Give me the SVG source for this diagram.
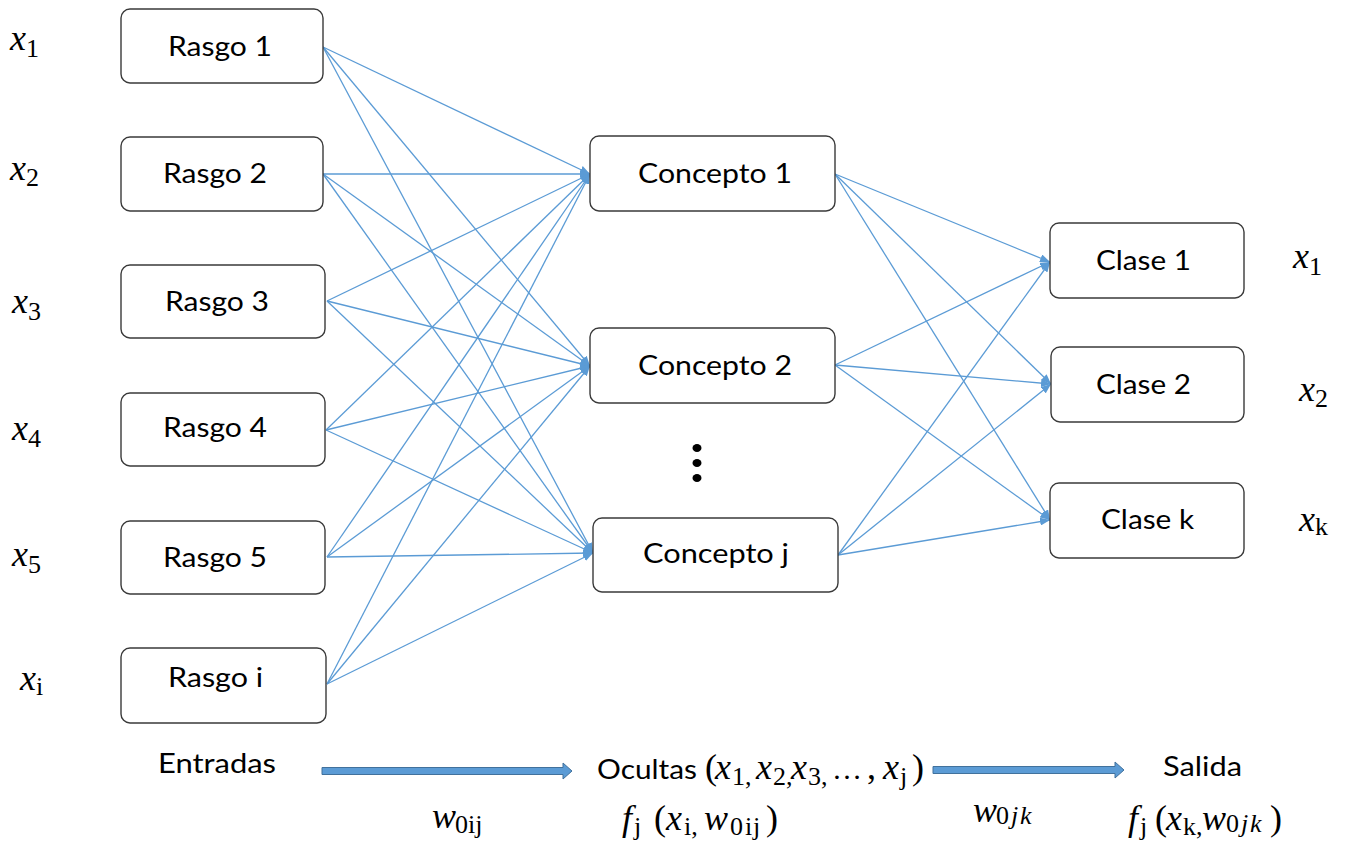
<svg xmlns="http://www.w3.org/2000/svg" width="1348" height="846" viewBox="0 0 1348 846">
  <style>
    .box { fill: #ffffff; stroke: #3a3a3a; stroke-width: 1.4; }
    .lbl { font-family: Lato, "Liberation Sans", sans-serif; font-size: 26px; fill: #000000; }
    .m { font-family: "Liberation Serif", serif; font-size: 36px; font-style: italic; fill: #000000; }
    .s { font-size: 26px; font-style: normal; }
    .si { font-size: 26px; font-style: italic; }
    .up { font-style: normal; }
    .edge { stroke: #5B9BD5; stroke-width: 1.3; fill: none; marker-end: url(#ah); }
    .flow { fill: #5B9BD5; stroke: #41719C; stroke-width: 1; }
  </style>
  <defs>
    <marker id="ah" viewBox="0 0 10 8" refX="10" refY="4" markerWidth="10" markerHeight="8" markerUnits="userSpaceOnUse" orient="auto">
      <path d="M0,0 L10,4 L0,8 z" fill="#5B9BD5"/>
    </marker>
  </defs>
  <rect width="1348" height="846" fill="#ffffff"/>

  <!-- connectors: input layer -> hidden layer -> output layer -->
  <g id="connectors">
    <line class="edge" x1="323" y1="47" x2="590" y2="174"/>
    <line class="edge" x1="323" y1="47" x2="590" y2="366"/>
    <line class="edge" x1="323" y1="47" x2="593" y2="553"/>
    <line class="edge" x1="323" y1="174" x2="590" y2="174"/>
    <line class="edge" x1="323" y1="174" x2="590" y2="366"/>
    <line class="edge" x1="323" y1="174" x2="593" y2="553"/>
    <line class="edge" x1="327" y1="301" x2="590" y2="174"/>
    <line class="edge" x1="327" y1="301" x2="590" y2="366"/>
    <line class="edge" x1="327" y1="301" x2="593" y2="553"/>
    <line class="edge" x1="326" y1="430" x2="590" y2="174"/>
    <line class="edge" x1="326" y1="430" x2="590" y2="366"/>
    <line class="edge" x1="326" y1="430" x2="593" y2="553"/>
    <line class="edge" x1="327" y1="557" x2="590" y2="174"/>
    <line class="edge" x1="327" y1="557" x2="590" y2="366"/>
    <line class="edge" x1="327" y1="557" x2="593" y2="553"/>
    <line class="edge" x1="327" y1="684" x2="590" y2="174"/>
    <line class="edge" x1="327" y1="684" x2="590" y2="366"/>
    <line class="edge" x1="327" y1="684" x2="593" y2="553"/>

    <line class="edge" x1="835" y1="174" x2="1050" y2="262"/>
    <line class="edge" x1="835" y1="174" x2="1051" y2="384"/>
    <line class="edge" x1="835" y1="174" x2="1050" y2="520"/>
    <line class="edge" x1="835" y1="365" x2="1050" y2="262"/>
    <line class="edge" x1="835" y1="365" x2="1051" y2="384"/>
    <line class="edge" x1="835" y1="365" x2="1050" y2="520"/>
    <line class="edge" x1="838" y1="555" x2="1050" y2="262"/>
    <line class="edge" x1="838" y1="555" x2="1051" y2="384"/>
    <line class="edge" x1="838" y1="555" x2="1050" y2="520"/>
  </g>

  <!-- input features -->
  <g id="rasgo1"><rect class="box" x="121" y="9" width="202" height="74" rx="9"/><text class="lbl" x="168" y="56" textLength="104" lengthAdjust="spacingAndGlyphs">Rasgo 1</text></g>
  <g id="rasgo2"><rect class="box" x="121" y="137" width="202" height="74" rx="9"/><text class="lbl" x="163" y="183" textLength="104" lengthAdjust="spacingAndGlyphs">Rasgo 2</text></g>
  <g id="rasgo3"><rect class="box" x="121" y="265" width="204" height="73" rx="9"/><text class="lbl" x="165" y="311" textLength="104" lengthAdjust="spacingAndGlyphs">Rasgo 3</text></g>
  <g id="rasgo4"><rect class="box" x="121" y="393" width="204" height="73" rx="9"/><text class="lbl" x="163" y="437" textLength="104" lengthAdjust="spacingAndGlyphs">Rasgo 4</text></g>
  <g id="rasgo5"><rect class="box" x="121" y="521" width="204" height="73" rx="9"/><text class="lbl" x="163" y="567" textLength="104" lengthAdjust="spacingAndGlyphs">Rasgo 5</text></g>
  <g id="rasgoi"><rect class="box" x="121" y="648" width="205" height="75" rx="9"/><text class="lbl" x="168" y="687" textLength="95" lengthAdjust="spacingAndGlyphs">Rasgo i</text></g>

  <!-- hidden concepts -->
  <g id="concepto1"><rect class="box" x="590" y="136" width="245" height="75" rx="9"/><text class="lbl" x="638" y="183" textLength="154" lengthAdjust="spacingAndGlyphs">Concepto 1</text></g>
  <g id="concepto2"><rect class="box" x="590" y="328" width="245" height="75" rx="9"/><text class="lbl" x="638" y="375" textLength="154" lengthAdjust="spacingAndGlyphs">Concepto 2</text></g>
  <g id="ellipsis">
    <ellipse cx="697" cy="448" rx="4.5" ry="4"/>
    <ellipse cx="697" cy="463" rx="4.5" ry="4"/>
    <ellipse cx="697" cy="478" rx="4.5" ry="4"/>
  </g>
  <g id="conceptoj"><rect class="box" x="593" y="518" width="245" height="74" rx="9"/><text class="lbl" x="643" y="563" textLength="146" lengthAdjust="spacingAndGlyphs">Concepto j</text></g>

  <!-- output classes -->
  <g id="clase1"><rect class="box" x="1050" y="223" width="194" height="75" rx="9"/><text class="lbl" x="1096" y="270" textLength="95" lengthAdjust="spacingAndGlyphs">Clase 1</text></g>
  <g id="clase2"><rect class="box" x="1051" y="347" width="193" height="75" rx="9"/><text class="lbl" x="1096" y="394" textLength="95" lengthAdjust="spacingAndGlyphs">Clase 2</text></g>
  <g id="clasek"><rect class="box" x="1050" y="483" width="194" height="75" rx="9"/><text class="lbl" x="1101" y="529" textLength="93" lengthAdjust="spacingAndGlyphs">Clase k</text></g>

  <!-- variable symbols beside the layers -->
  <g id="input-symbols">
    <text class="m" x="10" y="50">x<tspan class="s" dy="7">1</tspan></text>
    <text class="m" x="10" y="180">x<tspan class="s" dy="6">2</tspan></text>
    <text class="m" x="12" y="313">x<tspan class="s" dy="7">3</tspan></text>
    <text class="m" x="12" y="440">x<tspan class="s" dy="7">4</tspan></text>
    <text class="m" x="12" y="566">x<tspan class="s" dy="7">5</tspan></text>
    <text class="m" x="20" y="690">x<tspan class="s" dy="5">i</tspan></text>
  </g>
  <g id="output-symbols">
    <text class="m" x="1293" y="268">x<tspan class="s" dy="7">1</tspan></text>
    <text class="m" x="1299" y="401">x<tspan class="s" dy="6">2</tspan></text>
    <text class="m" x="1299" y="531">x<tspan class="s" dy="4">k</tspan></text>
  </g>

  <!-- layer flow along the bottom -->
  <g id="flow-arrows">
    <path class="flow" d="M322,767.5 H563 V763 L572,771 L563,779 V774.5 H322 Z"/>
    <path class="flow" d="M933,766.5 H1115 V762 L1124,770 L1115,778 V773.5 H933 Z"/>
  </g>

  <g id="entradas"><text class="lbl" x="158" y="773" textLength="118" lengthAdjust="spacingAndGlyphs">Entradas</text></g>
  <g id="w0ij"><text class="m" y="828"><tspan x="432">w</tspan><tspan class="s" x="455" dy="5">0ij</tspan></text></g>

  <g id="ocultas">
    <text class="lbl" x="597" y="779" textLength="100" lengthAdjust="spacingAndGlyphs">Ocultas</text>
    <text class="m" y="779"><tspan class="up" x="705">(</tspan><tspan x="715">x</tspan><tspan class="s" x="732" dy="6">1,</tspan><tspan x="756" dy="-6">x</tspan><tspan class="s" x="773" dy="6">2,</tspan><tspan x="791" dy="-6">x</tspan><tspan class="s" x="808" dy="6">3,</tspan><tspan class="up" x="832" dy="-6" font-size="30">…</tspan><tspan class="up" x="867">,</tspan><tspan x="883">x</tspan><tspan class="s" x="900" dy="6">j</tspan><tspan class="up" x="912" dy="-6">)</tspan></text>
  </g>
  <g id="fj-hidden">
    <text class="m" y="830"><tspan x="622">f</tspan><tspan class="s" x="634" dy="5">j</tspan><tspan class="up" x="654" dy="-5">(</tspan><tspan x="666">x</tspan><tspan class="s" x="684" dy="5">i,</tspan><tspan x="704" dy="-5">w</tspan><tspan class="s" x="730" dy="5">0</tspan><tspan class="s" x="745">i</tspan><tspan class="s" x="753">j</tspan><tspan class="up" x="766" dy="-5">)</tspan></text>
  </g>

  <g id="w0jk"><text class="m" y="822"><tspan x="973">w</tspan><tspan class="s" x="996" dy="2">0</tspan><tspan class="si" x="1011">j</tspan><tspan class="si" x="1020">k</tspan></text></g>

  <g id="salida"><text class="lbl" x="1163" y="776" textLength="79" lengthAdjust="spacingAndGlyphs">Salida</text></g>
  <g id="fj-output">
    <text class="m" y="830"><tspan x="1128">f</tspan><tspan class="s" x="1140" dy="5">j</tspan><tspan class="up" x="1155" dy="-5">(</tspan><tspan x="1166">x</tspan><tspan class="s" x="1183" dy="5">k,</tspan><tspan x="1202" dy="-5">w</tspan><tspan class="s" x="1226" dy="2">0</tspan><tspan class="si" x="1241">j</tspan><tspan class="si" x="1250">k</tspan><tspan class="up" x="1270" dy="-2">)</tspan></text>
  </g>
</svg>
